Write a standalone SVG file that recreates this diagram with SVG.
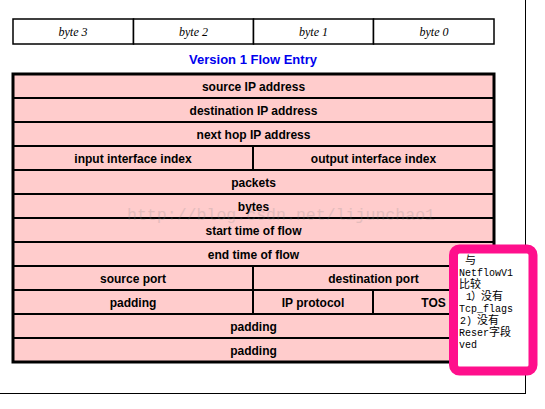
<svg xmlns="http://www.w3.org/2000/svg" width="545" height="409" viewBox="0 0 545 409">
<style>
.hdr{fill:#fff;stroke:#000;stroke-width:1.5}
.hdrt{font-family:"Liberation Serif",serif;font-style:italic;font-size:12px;text-anchor:middle;fill:#000}
.cell{fill:#ffcccc;stroke:#000;stroke-width:2}
.lbl{font-family:"Liberation Sans",Arial,sans-serif;font-weight:bold;font-size:12px;text-anchor:middle;fill:#000}
.title{font-family:"Liberation Sans",Arial,sans-serif;font-weight:bold;font-size:13px;text-anchor:middle;fill:#0000ee}
.note{font-family:"Liberation Mono","Noto Sans CJK SC",monospace;font-size:10px;fill:#000}
.cjk{font-family:"Noto Sans CJK SC","Liberation Mono",monospace;font-size:11px}
.wm{font-family:"Liberation Mono",monospace;font-size:16.5px;fill:#888;opacity:0.22}
</style>
<rect width="545" height="409" fill="#fff"/>
<g id="frame" fill="none" stroke="#000" stroke-width="1">
<line x1="525.5" y1="0" x2="525.5" y2="394"/>
<line x1="0" y1="393.5" x2="525.5" y2="393.5"/>
</g>
<g id="bytes-header">
<rect class="hdr" x="13" y="19" width="120.5" height="25"/>
<rect class="hdr" x="133.5" y="19" width="120" height="25"/>
<rect class="hdr" x="253.5" y="19" width="120" height="25"/>
<rect class="hdr" x="373.5" y="19" width="120.5" height="25"/>
<text class="hdrt" x="73" y="35.5">byte 3</text>
<text class="hdrt" x="193.5" y="35.5">byte 2</text>
<text class="hdrt" x="313.5" y="35.5">byte 1</text>
<text class="hdrt" x="434" y="35.5">byte 0</text>
</g>
<g id="title"><text class="title" x="253" y="64">Version 1 Flow Entry</text></g>
<g id="r-srcip"><rect class="cell" x="13" y="74" width="481" height="24"/><text class="lbl" x="253.5" y="90.5">source IP address</text></g>
<g id="r-dstip"><rect class="cell" x="13" y="98" width="481" height="24"/><text class="lbl" x="253.5" y="114.5">destination IP address</text></g>
<g id="r-nexthop"><rect class="cell" x="13" y="122" width="481" height="24"/><text class="lbl" x="253.5" y="138.5">next hop IP address</text></g>
<g id="r-input"><rect class="cell" x="13" y="146" width="240" height="24"/><text class="lbl" x="133" y="162.5">input interface index</text></g>
<g id="r-output"><rect class="cell" x="253" y="146" width="241" height="24"/><text class="lbl" x="373.5" y="162.5">output interface index</text></g>
<g id="r-packets"><rect class="cell" x="13" y="170" width="481" height="24"/><text class="lbl" x="253.5" y="186.5">packets</text></g>
<g id="r-bytes"><rect class="cell" x="13" y="194" width="481" height="24"/><text class="lbl" x="253.5" y="210.5">bytes</text></g>
<g id="r-start"><rect class="cell" x="13" y="218" width="481" height="24"/><text class="lbl" x="253.5" y="234.5">start time of flow</text></g>
<g id="r-end"><rect class="cell" x="13" y="242" width="481" height="24"/><text class="lbl" x="253.5" y="258.5">end time of flow</text></g>
<g id="r-srcport"><rect class="cell" x="13" y="266" width="240" height="24"/><text class="lbl" x="133" y="282.5">source port</text></g>
<g id="r-dstport"><rect class="cell" x="253" y="266" width="241" height="24"/><text class="lbl" x="373.5" y="282.5">destination port</text></g>
<g id="r-pad1"><rect class="cell" x="13" y="290" width="240" height="24"/><text class="lbl" x="133" y="306.5">padding</text></g>
<g id="r-proto"><rect class="cell" x="253" y="290" width="120" height="24"/><text class="lbl" x="313" y="306.5">IP protocol</text></g>
<g id="r-tos"><rect class="cell" x="373" y="290" width="121" height="24"/><text class="lbl" x="433.5" y="306.5">TOS</text></g>
<g id="r-pad2"><rect class="cell" x="13" y="314" width="481" height="24"/><text class="lbl" x="253.5" y="330.5">padding</text></g>
<g id="r-pad3"><rect class="cell" x="13" y="338" width="481" height="24"/><text class="lbl" x="253.5" y="354.5">padding</text></g>
<g id="table-border"><rect x="13" y="74" width="481" height="288" fill="none" stroke="#000" stroke-width="3"/></g>
<g id="watermark"><text class="wm" x="127" y="220" textLength="308" lengthAdjust="spacingAndGlyphs">http://blog.csdn.net/lijunchao1</text></g>
<g id="note">
<rect x="453.5" y="249" width="79.5" height="122" rx="6" fill="#fff" stroke="#ff0f8c" stroke-width="9"/>
<text class="note"><tspan class="cjk" x="465" y="264">与</tspan></text>
<text class="note" x="459" y="276">NetflowV1</text>
<text class="note"><tspan class="cjk" x="459" y="288">比较</tspan></text>
<text class="note" x="466" y="300">1<tspan class="cjk" x="471">）</tspan><tspan class="cjk" x="481">没有</tspan></text>
<text class="note" x="459" y="312">Tcp_flags</text>
<text class="note" x="460" y="324">2)<tspan class="cjk" x="477">没有</tspan></text>
<text class="note" x="459" y="336">Reser<tspan class="cjk" x="489">字段</tspan></text>
<text class="note" x="459" y="348">ved</text>
</g>
</svg>
